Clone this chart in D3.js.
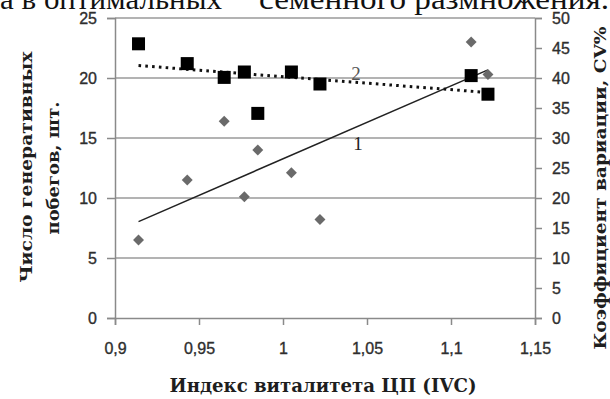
<!DOCTYPE html>
<html><head><meta charset="utf-8">
<script src="https://cdn.jsdelivr.net/npm/d3@7"></script>
<style>
html,body{margin:0;padding:0;background:#fff;}
svg{display:block;}
</style></head>
<body>
<svg id="c" width="610" height="399"></svg>
<script>
// ---- data ----
const ivc    = [0.914, 0.943, 0.965, 0.977, 0.985, 1.005, 1.022, 1.112, 1.122];
const shoots = [6.5, 11.5, 16.4, 10.1, 14.0, 12.1, 8.2, 23.0, 20.3];   // series 1, left axis
const cv     = [45.7, 42.4, 40.1, 41.0, 34.1, 41.0, 39.0, 40.4, 37.3]; // series 2, right axis
const xTicks = [0.9, 0.95, 1, 1.05, 1.1, 1.15];
const yLeftTicks = [0, 5, 10, 15, 20, 25];
const yRightTicks = [0, 5, 10, 15, 20, 25, 30, 35, 40, 45, 50];
const xTitle = "Индекс виталитета ЦП (IVC)";
const yLeftTitle = ["Число генеративных", "побегов, шт."];
const yRightTitle = "Коэффициент вариации, CV%";
const pageText = ["а в оптимальных", "семенного размножения."];

const svg = d3.select("#c");
const L = 115, R = 535, T = 18, B = 318;
const x = d3.scaleLinear().domain([0.9, 1.15]).range([L, R]);
const yL = d3.scaleLinear().domain([0, 25]).range([B, T]);
const yR = d3.scaleLinear().domain([0, 50]).range([B, T]);
const fmt = d => String(d).replace(".", ",");

// page text cut at top
svg.append("text").attr("x", 0).attr("y", 9).attr("font-family", "Liberation Serif")
  .attr("font-size", 29).attr("fill", "#111").text(pageText[0])
  .attr("textLength", 222).attr("lengthAdjust", "spacingAndGlyphs");
svg.append("text").attr("x", 259).attr("y", 9).attr("font-family", "Liberation Serif")
  .attr("font-size", 29).attr("fill", "#111").text(pageText[1])
  .attr("textLength", 350).attr("lengthAdjust", "spacingAndGlyphs");

// gridlines
svg.append("g").selectAll("line").data(yLeftTicks.filter(d => d > 0)).join("line")
  .attr("x1", L).attr("x2", R).attr("y1", d => yL(d)).attr("y2", d => yL(d))
  .attr("stroke", "#9a9a9a").attr("stroke-width", 1.5);

// axes
const axStyle = g => {
  g.select(".domain").attr("stroke", "#8a8a8a").attr("stroke-width", 1.5);
  g.selectAll(".tick line").attr("stroke", "#8a8a8a").attr("stroke-width", 1.5);
  g.selectAll(".tick text").attr("font-family", "Liberation Sans").attr("font-size", 16)
    .attr("fill", "#2e2e2e").attr("stroke", "#2e2e2e").attr("stroke-width", 0.35);
};
svg.append("g").attr("transform", `translate(0,${B})`)
  .call(d3.axisBottom(x).tickValues(xTicks).tickFormat(fmt).tickSizeOuter(0).tickSize(7).tickPadding(18))
  .call(axStyle);
svg.append("g").attr("transform", `translate(${L},0)`)
  .call(d3.axisLeft(yL).tickValues(yLeftTicks).tickFormat(fmt).tickSizeOuter(0).tickSize(8).tickPadding(10))
  .call(axStyle);
svg.append("g").attr("transform", `translate(${R},0)`)
  .call(d3.axisRight(yR).tickValues(yRightTicks).tickFormat(fmt).tickSizeOuter(0).tickSize(7).tickPadding(10))
  .call(axStyle);

// trendlines (least squares)
function fit(xs, ys) {
  const mx = d3.mean(xs), my = d3.mean(ys);
  const b = d3.sum(xs, (v, i) => (v - mx) * (ys[i] - my)) / d3.sum(xs, v => (v - mx) ** 2);
  return v => my + b * (v - mx);
}
const x0 = d3.min(ivc), x1 = d3.max(ivc);
const f1 = fit(ivc, shoots), f2 = fit(ivc, cv);
svg.append("line").attr("x1", x(x0)).attr("x2", x(x1)).attr("y1", yL(f1(x0))).attr("y2", yL(f1(x1)))
  .attr("stroke", "#222").attr("stroke-width", 1.5);
svg.append("line").attr("x1", x(x0)).attr("x2", x(x1)).attr("y1", yR(f2(x0))).attr("y2", yR(f2(x1)))
  .attr("stroke", "#111").attr("stroke-width", 3).attr("stroke-dasharray", "2.6,4.2");

// markers
svg.append("g").selectAll("path").data(ivc).join("path")
  .attr("d", d3.symbol(d3.symbolSquare, 60)())
  .attr("transform", (d, i) => `translate(${x(d)},${yL(shoots[i])}) rotate(45)`)
  .attr("fill", "#6a6a6a");
svg.append("g").selectAll("rect").data(ivc).join("rect")
  .attr("x", d => x(d) - 6.5).attr("y", (d, i) => yR(cv[i]) - 6.5)
  .attr("width", 13).attr("height", 13).attr("fill", "#000");

// labels 1, 2
svg.append("text").attr("x", 358).attr("y", 143).attr("text-anchor", "middle").attr("dominant-baseline", "central")
  .attr("font-family", "Liberation Serif").attr("font-size", 19).attr("fill", "#222").text("1");
svg.append("text").attr("x", 356).attr("y", 73).attr("text-anchor", "middle").attr("dominant-baseline", "central")
  .attr("font-family", "Liberation Serif").attr("font-size", 19).attr("fill", "#555").text("2");

// axis titles
const titleFont = "DejaVu Serif";
svg.append("text").attr("x", 323).attr("y", 385).attr("text-anchor", "middle").attr("dominant-baseline", "central")
  .attr("font-family", titleFont).attr("font-weight", "bold").attr("font-size", 18).attr("fill", "#1e1e1e")
  .attr("textLength", 307).attr("lengthAdjust", "spacingAndGlyphs").text(xTitle);
svg.append("text").attr("transform", "translate(26,167) rotate(-90)").attr("text-anchor", "middle")
  .attr("dominant-baseline", "central").attr("font-family", titleFont).attr("font-weight", "bold")
  .attr("font-size", 17).attr("fill", "#1e1e1e").attr("textLength", 231).attr("lengthAdjust", "spacingAndGlyphs")
  .text(yLeftTitle[0]);
svg.append("text").attr("transform", "translate(53,168) rotate(-90)").attr("text-anchor", "middle")
  .attr("dominant-baseline", "central").attr("font-family", titleFont).attr("font-weight", "bold")
  .attr("font-size", 17).attr("fill", "#1e1e1e").attr("textLength", 133).attr("lengthAdjust", "spacingAndGlyphs")
  .text(yLeftTitle[1]);
svg.append("text").attr("transform", "translate(600,188) rotate(-90)").attr("text-anchor", "middle")
  .attr("dominant-baseline", "central").attr("font-family", titleFont).attr("font-weight", "bold")
  .attr("font-size", 17).attr("fill", "#1e1e1e").attr("textLength", 323).attr("lengthAdjust", "spacingAndGlyphs")
  .text(yRightTitle);
</script>
</body></html>
